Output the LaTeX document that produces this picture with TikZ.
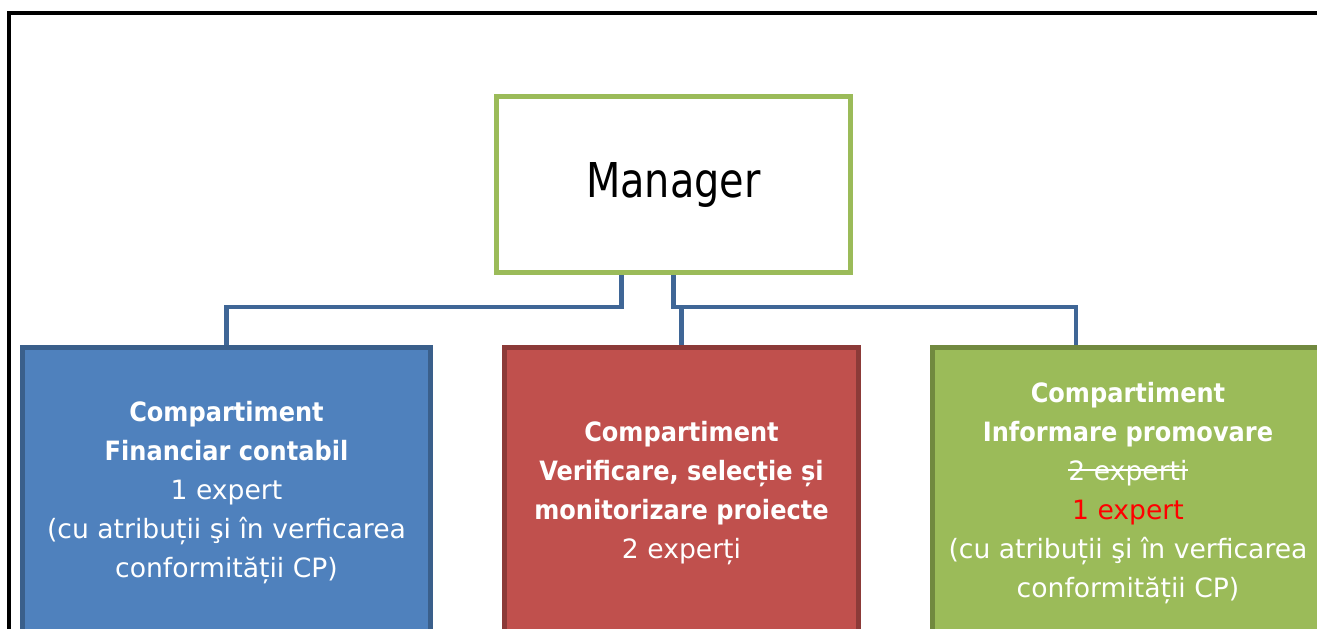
\documentclass[tikz,border=0pt]{standalone}
\usepackage{fontspec}
\setmainfont{DejaVu Sans}
\newfontfamily\mgrfont{DejaVu Sans}[FakeStretch=0.83]
\newfontfamily\headfont{DejaVu Sans Bold}[FakeStretch=0.905]
\newlength\crosslen
\newcommand\crossedout[1]{\settowidth\crosslen{#1}\rlap{\rule[0.68ex]{\crosslen}{1.6pt}}#1}
\newcommand\head[1]{{\headfont #1}}

\definecolor{mgrgreen}{HTML}{9BBB59}
\definecolor{connblue}{HTML}{3F6696}
\definecolor{finblue}{HTML}{4F81BD}
\definecolor{finedge}{HTML}{3A5F8B}
\definecolor{verred}{HTML}{C0504D}
\definecolor{veredge}{HTML}{8C3A38}
\definecolor{infgreen}{HTML}{9BBB59}
\definecolor{infedge}{HTML}{71893F}

\begin{document}
\begin{tikzpicture}[x=1pt,y=-1pt,
  unit/.style={draw, line width=5.5pt, align=center, text=white, inner sep=0pt,
    font=\fontsize{26.6}{39}\selectfont, minimum height=291pt},
  conn/.style={draw=connblue, line width=4.7pt}]
  % --- page size (one unit = one pixel of the reference)
  \def\W{1317}   % width
  \def\Hp{629}   % height
  \def\drop{31.7} % manager bottom -> bus

  \useasboundingbox (0,0) rectangle (\W,\Hp);
  \clip (0,0) rectangle (\W,\Hp);

  %---------------------------------------
  % page frame (only top and left are seen)
  \draw[line width=4pt] (\W+5,13) -- (9,13) -- (9,\Hp+5);

  %---------------------------------------
  % manager
  \node[draw=mgrgreen, line width=5.5pt, fill=white, minimum width=354pt,
    minimum height=176pt, font=\mgrfont\fontsize{48}{58}\selectfont]
    (mgr) at (673.5,184.5) {Manager};

  %---------------------------------------
  % compartments (cut by the bottom of the page)
  \node[unit, fill=finblue, draw=finedge, minimum width=408pt] (fin) at (226.5,493)
    {\head{Compartiment}\\\head{Financiar contabil}\\1 expert\\
     (cu atribuții şi în verficarea\\conformității CP)};
  \node[unit, fill=verred, draw=veredge, minimum width=354pt] (ver) at (681.5,493)
    {\head{Compartiment}\\\head{Verificare, selecție și}\\
     \head{monitorizare proiecte}\\2 experți};
  \node[unit, fill=infgreen, draw=infedge, minimum width=391pt] (inf) at (1128,493)
    {\head{Compartiment}\\\head{Informare promovare}\\\crossedout{2 experti}\\
     \textcolor{red}{1 expert}\\(cu atribuții şi în verficarea\\conformității CP)};

  %---------------------------------------
  % connectors
  \coordinate (bus) at ([yshift=-\drop pt]mgr.south);
  \draw[conn] ([xshift=-52pt]mgr.south) -- ([xshift=-52pt]bus) -| (fin.north);
  \draw[conn] (mgr.south) -- (bus) -| ([xshift=-52pt]inf.north);
  \draw[conn] (ver.north |- bus) -- (ver.north);
\end{tikzpicture}
\end{document}
